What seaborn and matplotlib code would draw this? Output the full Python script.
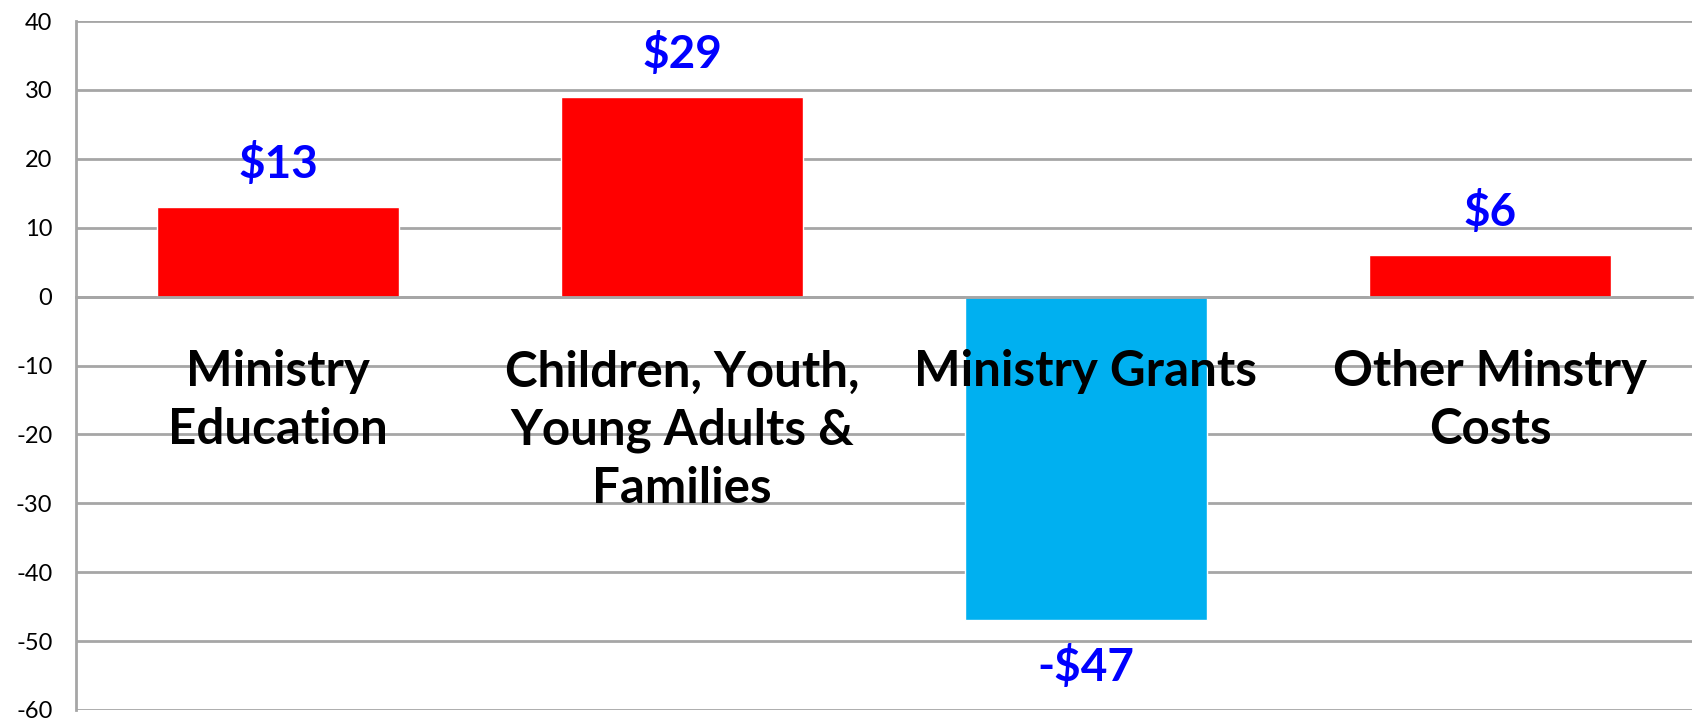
import numpy as np
import matplotlib
matplotlib.use("Agg")
import matplotlib.pyplot as plt
import seaborn as sns

# --- Data ---
categories = ["Ministry\nEducation", "Children, Youth,\nYoung Adults &\nFamilies",
              "Ministry Grants", "Other Minstry\nCosts"]
values = [13, 29, -47, 6]
value_labels = ["$13", "$29", "-$47", "$6"]
bar_colors = ["#FF0000", "#FF0000", "#00B0F0", "#FF0000"]
y_ticks = list(range(-60, 41, 10))

# --- Style ---
sns.set_style("white")
plt.rcParams['font.family'] = ['Lato', 'DejaVu Sans']
grid_color = "#A6A6A6"

fig = plt.figure(figsize=(16.96, 7.21), dpi=100)
ax = fig.add_axes([76 / 1696, 11 / 721, (1692 - 76) / 1696, (710 - 21) / 721])

sns.barplot(x=categories, y=values, hue=categories, palette=bar_colors,
            width=0.6, saturation=1, legend=False, ax=ax, zorder=2)

ax.set_ylim(-60, 40)
ax.set_xlim(-0.5, len(categories) - 0.5)
ax.set_yticks(y_ticks)
ax.set_yticklabels([str(t) for t in y_ticks], fontsize=17, color="black")
ax.yaxis.grid(True, color=grid_color, linewidth=2, zorder=0)
ax.set_axisbelow(True)

# spines: x axis at zero, y axis on left
for side in ["top", "right"]:
    ax.spines[side].set_visible(False)
ax.spines["bottom"].set_position(("data", 0))
ax.spines["bottom"].set_color(grid_color)
ax.spines["bottom"].set_linewidth(2)
ax.spines["left"].set_color(grid_color)
ax.spines["left"].set_linewidth(2)

ax.tick_params(axis="y", direction="out", length=7, width=2, color=grid_color, pad=10)
ax.set_xticks(np.arange(-0.5, len(categories), 1.0), minor=True)
ax.tick_params(axis="x", which="minor", direction="out", length=12, width=2, color=grid_color)
ax.tick_params(axis="x", which="major", length=0, pad=38)
for lbl in ax.get_xticklabels():
    lbl.set_fontsize(35.5)
    lbl.set_fontweight("bold")
    lbl.set_color("black")
    lbl.set_linespacing(1.35)
ax.xaxis.set_zorder(5)
ax.set_xlabel("")
ax.set_ylabel("")

# value labels
for cont, lab, v in zip(ax.containers, value_labels, values):
    ax.bar_label(cont, labels=[lab], fontsize=33, fontweight="bold", color="#0000FF",
                 padding=15 if v > 0 else 18)

fig.savefig("out.png", dpi=100)
